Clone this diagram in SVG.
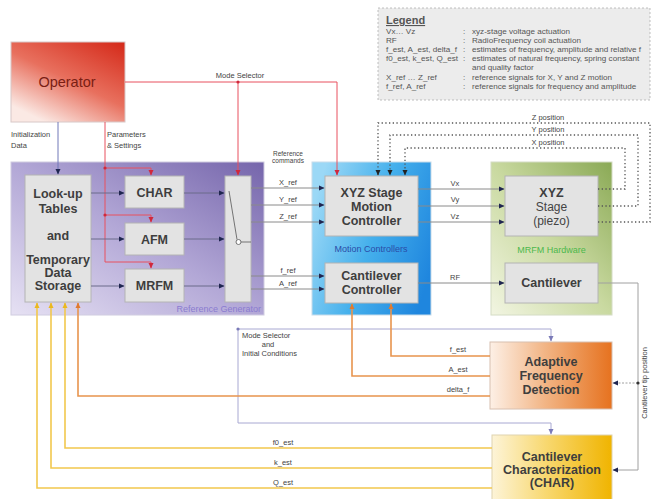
<svg xmlns="http://www.w3.org/2000/svg" width="652" height="499" viewBox="0 0 652 499">
<defs>
<linearGradient id="gOp" x1="1" y1="0" x2="0.3" y2="1"><stop offset="0" stop-color="#d42818"/><stop offset="0.55" stop-color="#e8705e"/><stop offset="1" stop-color="#fbe9e4"/></linearGradient>
<linearGradient id="gRG" x1="0" y1="1" x2="1" y2="0"><stop offset="0" stop-color="#e6e1f3"/><stop offset="0.5" stop-color="#b2a7d6"/><stop offset="1" stop-color="#7565ab"/></linearGradient>
<linearGradient id="gMC" x1="0" y1="0.3" x2="1" y2="0.7"><stop offset="0" stop-color="#9bd8f6"/><stop offset="0.5" stop-color="#45b0ec"/><stop offset="1" stop-color="#1f86de"/></linearGradient>
<linearGradient id="gHW" x1="0" y1="1" x2="1" y2="0"><stop offset="0" stop-color="#f2f5e2"/><stop offset="0.5" stop-color="#c9d9a0"/><stop offset="1" stop-color="#8aa955"/></linearGradient>
<linearGradient id="gAD" x1="0" y1="0" x2="1" y2="0"><stop offset="0" stop-color="#fdf0e6"/><stop offset="0.45" stop-color="#f2b585"/><stop offset="1" stop-color="#e6721f"/></linearGradient>
<linearGradient id="gCH" x1="0" y1="0" x2="1" y2="0"><stop offset="0" stop-color="#fdf4d8"/><stop offset="0.45" stop-color="#f8d870"/><stop offset="1" stop-color="#f0b400"/></linearGradient>
<marker id="aN" markerWidth="6" markerHeight="6" refX="5" refY="3" orient="auto" markerUnits="userSpaceOnUse"><path d="M0,0.5 L5.5,3 L0,5.5 Z" fill="#1f2550"/></marker>
<marker id="aR" markerWidth="6" markerHeight="6" refX="5" refY="3" orient="auto" markerUnits="userSpaceOnUse"><path d="M0,0.5 L5.5,3 L0,5.5 Z" fill="#d0283c"/></marker>
<marker id="aO" markerWidth="6" markerHeight="6" refX="5" refY="3" orient="auto" markerUnits="userSpaceOnUse"><path d="M0,0.5 L5.5,3 L0,5.5 Z" fill="#e07a30"/></marker>
<marker id="aY" markerWidth="6" markerHeight="6" refX="5" refY="3" orient="auto" markerUnits="userSpaceOnUse"><path d="M0,0.5 L5.5,3 L0,5.5 Z" fill="#eab820"/></marker>
<marker id="aP" markerWidth="6" markerHeight="6" refX="5" refY="3" orient="auto" markerUnits="userSpaceOnUse"><path d="M0,0.5 L5.5,3 L0,5.5 Z" fill="#7a7ab8"/></marker>
<marker id="aD" markerWidth="6" markerHeight="6" refX="5" refY="3" orient="auto" markerUnits="userSpaceOnUse"><path d="M0,0.5 L5.5,3 L0,5.5 Z" fill="#222"/></marker>
</defs>
<style>
text{font-family:"Liberation Sans",Arial,sans-serif;fill:#444}
.box{fill:#e3e3e3;stroke:#b4b4b4;stroke-width:1}
.bl{font-size:12.5px;font-weight:bold;text-anchor:middle;fill:#3e3e3e}
.sm{font-size:7.5px;fill:#444}
.smc{font-size:7.5px;fill:#444;text-anchor:middle}
.lg{font-size:8.1px;fill:#555}
.g{fill:none;stroke:#8a8a8a;stroke-width:1}
.r{fill:none;stroke:#e8505e;stroke-width:1}
.o{fill:none;stroke:#e8944e;stroke-width:1.6}
.y{fill:none;stroke:#f2c84e;stroke-width:1.6}
.p{fill:none;stroke:#a8a8d2;stroke-width:1}
.d{fill:none;stroke:#555;stroke-width:1.3;stroke-dasharray:1.3 2.4}
.dot{stroke:none}
</style>

<g id="legend">
<rect x="378" y="8" width="272" height="92" fill="#ececec" stroke="#b0b0b0" stroke-width="0.8" stroke-dasharray="2 2"/>
<text x="386" y="24" style="font-size:11px;font-weight:bold;fill:#555;text-decoration:underline">Legend</text>
<text class="lg" x="386" y="34">Vx… Vz</text><text class="lg" x="463" y="34">:</text><text class="lg" x="472" y="34">xyz-stage voltage actuation</text>
<text class="lg" x="386" y="43">RF</text><text class="lg" x="463" y="43">:</text><text class="lg" x="472" y="43">RadioFrequency coil actuation</text>
<text class="lg" x="386" y="52">f_est, A_est, delta_f</text><text class="lg" x="463" y="52">:</text><text class="lg" x="472" y="52">estimates of frequency, amplitude and relative f</text>
<text class="lg" x="386" y="61">f0_est, k_est, Q_est</text><text class="lg" x="463" y="61">:</text><text class="lg" x="472" y="61">estimates of natural frequency, spring constant</text>
<text class="lg" x="472" y="70">and quality factor</text>
<text class="lg" x="386" y="80">X_ref … Z_ref</text><text class="lg" x="463" y="80">:</text><text class="lg" x="472" y="80">reference signals for X, Y and Z motion</text>
<text class="lg" x="386" y="89">f_ref, A_ref</text><text class="lg" x="463" y="89">:</text><text class="lg" x="472" y="89">reference signals for frequency and amplitude</text>
</g>

<g id="operator">
<rect x="11" y="42" width="114" height="80" fill="url(#gOp)" stroke="#d8c8c8" stroke-width="1"/>
<text x="67" y="87" style="font-size:14.5px;fill:#7a1e14;text-anchor:middle">Operator</text>
</g>

<g id="reference-generator">
<rect x="11" y="162" width="253" height="153" fill="url(#gRG)" stroke="#d0cce0" stroke-width="1"/>
<text x="261" y="312" style="font-size:9px;fill:#8a7cd0;text-anchor:end">Reference Generator</text>
</g>
<g id="lookup">
<rect class="box" x="25" y="175" width="66" height="127"/>
<text class="bl" x="58" y="198">Look-up</text>
<text class="bl" x="58" y="213">Tables</text>
<text class="bl" x="58" y="240">and</text>
<text class="bl" x="58" y="264">Temporary</text>
<text class="bl" x="58" y="277">Data</text>
<text class="bl" x="58" y="290">Storage</text>
</g>
<g id="char-mode"><rect class="box" x="125" y="176" width="59" height="32"/><text class="bl" x="154.5" y="197">CHAR</text></g>
<g id="afm-mode"><rect class="box" x="125" y="223" width="59" height="32"/><text class="bl" x="154.5" y="244">AFM</text></g>
<g id="mrfm-mode"><rect class="box" x="125" y="269" width="59" height="33"/><text class="bl" x="154.5" y="290">MRFM</text></g>
<g id="switch">
<rect class="box" x="225" y="176" width="26" height="126"/>
<line x1="229" y1="191" x2="237" y2="239.5" stroke="#666" stroke-width="0.9"/>
<line x1="241" y1="242" x2="251" y2="242" stroke="#666" stroke-width="0.9"/>
<circle cx="238.5" cy="242" r="2.5" fill="#fff" stroke="#666" stroke-width="0.9"/>
</g>

<g id="motion-controllers">
<rect x="312" y="162" width="119" height="153" fill="url(#gMC)" stroke="#c8dcea" stroke-width="1"/>
<text x="371" y="252" style="font-size:9px;fill:#2a4ca8;text-anchor:middle">Motion Controllers</text>
</g>
<g id="xyz-controller">
<rect class="box" x="325" y="176" width="93" height="60"/>
<text class="bl" x="371.5" y="197">XYZ Stage</text>
<text class="bl" x="371.5" y="211">Motion</text>
<text class="bl" x="371.5" y="225">Controller</text>
</g>
<g id="cantilever-controller">
<rect class="box" x="325" y="263" width="93" height="40"/>
<text class="bl" x="371.5" y="280">Cantilever</text>
<text class="bl" x="371.5" y="294">Controller</text>
</g>

<g id="mrfm-hardware">
<rect x="491" y="162" width="121" height="153" fill="url(#gHW)" stroke="#d4dcc4" stroke-width="1"/>
<text x="551.5" y="253" style="font-size:9px;fill:#4cb84c;text-anchor:middle">MRFM Hardware</text>
</g>
<g id="xyz-stage">
<rect class="box" x="505" y="176" width="93" height="60"/>
<text class="bl" x="551.5" y="197">XYZ</text>
<text x="551.5" y="211" style="font-size:12px;text-anchor:middle;fill:#444">Stage</text>
<text x="551.5" y="225" style="font-size:12px;text-anchor:middle;fill:#444">(piezo)</text>
</g>
<g id="cantilever">
<rect class="box" x="505" y="263" width="93" height="40"/>
<text class="bl" x="551.5" y="287">Cantilever</text>
</g>

<g id="adaptive">
<rect x="490" y="342" width="122" height="67" fill="url(#gAD)" stroke="#d8c0b0" stroke-width="1"/>
<text class="bl" x="551" y="366">Adaptive</text>
<text class="bl" x="551" y="380">Frequency</text>
<text class="bl" x="551" y="394">Detection</text>
</g>
<g id="char-block">
<rect x="492" y="435" width="120" height="66" fill="url(#gCH)" stroke="#e0d4b0" stroke-width="1"/>
<text class="bl" x="552" y="461">Cantilever</text>
<text class="bl" x="552" y="474">Characterization</text>
<text class="bl" x="552" y="487">(CHAR)</text>
</g>

<g id="connectors">
<path class="p" style="stroke:#7078b8" d="M58,122 V174" marker-end="url(#aN)"/>
<path class="r" d="M105,122 V262"/>
<path class="r" d="M105,168 H151 V175" marker-end="url(#aR)"/>
<path class="r" d="M105,215 H151 V222" marker-end="url(#aR)"/>
<path class="r" d="M105,262 H151 V268" marker-end="url(#aR)"/>
<circle class="dot" cx="105" cy="168" r="1.6" fill="#d0283c"/>
<circle class="dot" cx="105" cy="215" r="1.6" fill="#d0283c"/>
<path class="r" d="M125,82 H337 V175" marker-end="url(#aR)"/>
<path class="r" d="M238,82 V175" marker-end="url(#aR)"/>
<circle class="dot" cx="238" cy="82" r="1.6" fill="#d0283c"/>
<path class="g" style="stroke:#6a6a8a" d="M91,193 H124" marker-end="url(#aN)"/>
<path class="g" style="stroke:#6a6a8a" d="M91,239 H124" marker-end="url(#aN)"/>
<path class="g" style="stroke:#6a6a8a" d="M91,286 H124" marker-end="url(#aN)"/>
<path class="g" style="stroke:#6a6a8a" d="M184,193 H224" marker-end="url(#aN)"/>
<path class="g" style="stroke:#6a6a8a" d="M184,239 H224" marker-end="url(#aN)"/>
<path class="g" style="stroke:#6a6a8a" d="M184,286 H224" marker-end="url(#aN)"/>
<path class="g" d="M251,188 H324" marker-end="url(#aN)"/>
<path class="g" d="M251,205 H324" marker-end="url(#aN)"/>
<path class="g" d="M251,222 H324" marker-end="url(#aN)"/>
<path class="g" d="M251,276 H324" marker-end="url(#aN)"/>
<path class="g" d="M251,289 H324" marker-end="url(#aN)"/>
<path class="g" d="M418,189 H504" marker-end="url(#aN)"/>
<path class="g" d="M418,206 H504" marker-end="url(#aN)"/>
<path class="g" d="M418,222 H504" marker-end="url(#aN)"/>
<path class="g" d="M418,283 H504" marker-end="url(#aN)"/>
<path class="d" d="M598,189 H625 V148 H405 V175" marker-end="url(#aD)"/>
<path class="d" d="M598,206 H638 V135 H390 V175" marker-end="url(#aD)"/>
<path class="d" d="M598,222 H650 V123 H378 V175" marker-end="url(#aD)"/>
<path class="g" style="stroke:#a0a0a0" d="M598,283 H638 V470 H613" marker-end="url(#aN)"/>
<path class="g" style="stroke:#a0a0a0;stroke-dasharray:2 1.5" d="M638,383 H613" marker-end="url(#aN)"/>
<circle class="dot" cx="638" cy="383" r="1.6" fill="#333"/>
<path class="p" d="M238,329 V423 H551 V434" marker-end="url(#aP)"/>
<path class="p" d="M238,329 H551 V341" marker-end="url(#aP)"/>
<circle class="dot" cx="238" cy="329" r="1.6" fill="#7a7ab8"/>
<path class="o" d="M490,356 H391 V304" marker-end="url(#aO)"/>
<path class="o" d="M490,376 H352 V304" marker-end="url(#aO)"/>
<path class="o" d="M490,396 H78 V303" marker-end="url(#aO)"/>
<path class="y" d="M492,448 H65 V303" marker-end="url(#aY)"/>
<path class="y" d="M492,468 H51 V303" marker-end="url(#aY)"/>
<path class="y" d="M492,488 H37 V303" marker-end="url(#aY)"/>
</g>

<g id="labels">
<text class="smc" x="240" y="78">Mode Selector</text>
<text class="sm" x="11" y="137">Initialization</text>
<text class="sm" x="11" y="148">Data</text>
<text class="sm" x="107" y="137">Parameters</text>
<text class="sm" x="107" y="148">&amp; Settings</text>
<text class="smc" x="288" y="156" style="font-size:6.5px">Reference</text>
<text class="smc" x="288" y="163" style="font-size:6.5px">commands</text>
<text class="smc" x="288" y="185">X_ref</text>
<text class="smc" x="288" y="202">Y_ref</text>
<text class="smc" x="288" y="219">Z_ref</text>
<text class="smc" x="288" y="273">f_ref</text>
<text class="smc" x="288" y="286">A_ref</text>
<text class="smc" x="455" y="186">Vx</text>
<text class="smc" x="455" y="202">Vy</text>
<text class="smc" x="455" y="219">Vz</text>
<text class="smc" x="455" y="280">RF</text>
<text class="smc" x="548" y="120">Z position</text>
<text class="smc" x="548" y="132">Y position</text>
<text class="smc" x="548" y="145">X position</text>
<text class="sm" x="242" y="338">Mode Selector</text>
<text class="smc" x="268" y="347">and</text>
<text class="sm" x="242" y="356">Initial Conditions</text>
<text class="smc" x="458" y="352">f_est</text>
<text class="smc" x="458" y="372">A_est</text>
<text class="smc" x="458" y="392">delta_f</text>
<text class="smc" x="283" y="445">f0_est</text>
<text class="smc" x="283" y="465">k_est</text>
<text class="smc" x="283" y="485">Q_est</text>
<text class="smc" transform="translate(647,383) rotate(-90)">Cantilever tip position</text>
</g>
</svg>
